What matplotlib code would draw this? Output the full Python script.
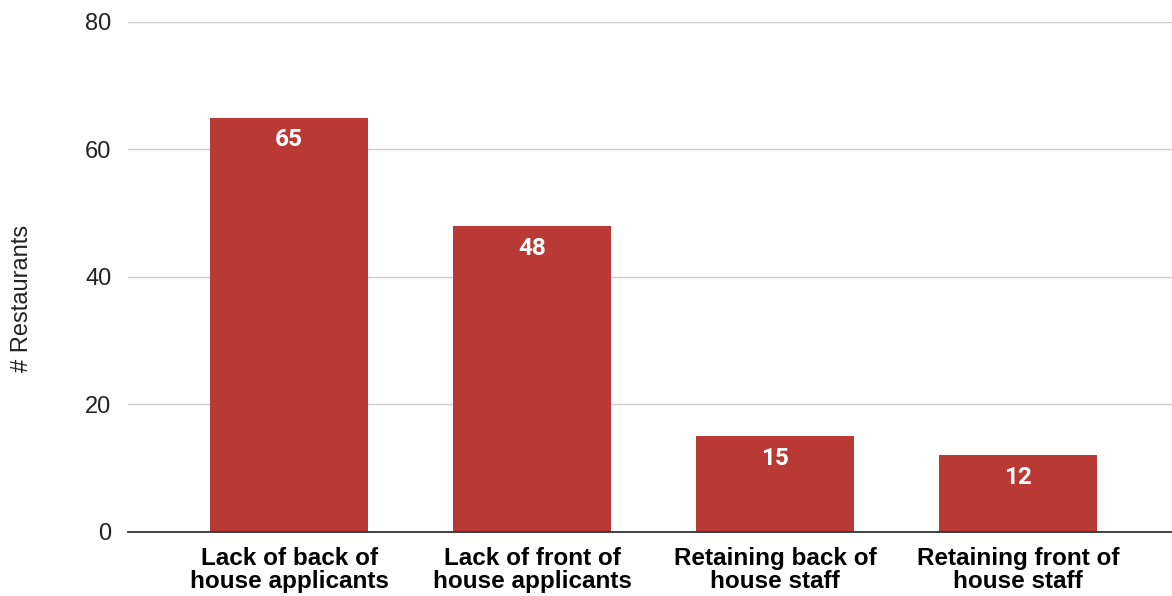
import matplotlib.pyplot as plt

# Data
categories = [
    "Lack of back of\nhouse applicants",
    "Lack of front of\nhouse applicants",
    "Retaining back of\nhouse staff",
    "Retaining front of\nhouse staff",
]
counts = [65, 48, 15, 12]
yticks = [0, 20, 40, 60, 80]

plt.rcParams["font.family"] = ["Liberation Sans", "DejaVu Sans"]

fig = plt.figure(figsize=(11.72, 5.96), dpi=100)
ax = fig.add_axes([0.1092, 0.1074, 0.8908, 0.8557])

x = range(len(categories))
bars = ax.bar(x, counts, width=0.65, color="#b93a35", zorder=3)

for rect, v in zip(bars, counts):
    ax.annotate(
        str(v),
        (rect.get_x() + rect.get_width() / 2, rect.get_height()),
        xytext=(0, -16), textcoords="offset points",
        ha="center", va="center", color="white",
        fontsize=17.5, fontweight="bold", family=["Roboto", "DejaVu Sans"],
    )

ax.set_xlim(-0.663, 3.634)
ax.set_ylim(0, 80)
ax.set_yticks(yticks)
ax.set_xticks(list(x))
ax.set_xticklabels(categories, fontsize=17.5, fontweight="bold", linespacing=1.05)
ax.tick_params(axis="x", length=0, pad=10.5)
ax.tick_params(axis="y", length=0, pad=12, labelsize=17, labelcolor="#222222")

ax.grid(axis="y", color="#cccccc", linewidth=1, zorder=0)
for s in ["top", "right", "left"]:
    ax.spines[s].set_visible(False)
ax.spines["bottom"].set_color("#333333")
ax.spines["bottom"].set_linewidth(1.3)
ax.spines["bottom"].set_zorder(4)

fig.text(0.019, 0.5, "# Restaurants", rotation=90, ha="center", va="center",
         fontsize=17, color="#222222")

fig.savefig("out.png", dpi=100)
